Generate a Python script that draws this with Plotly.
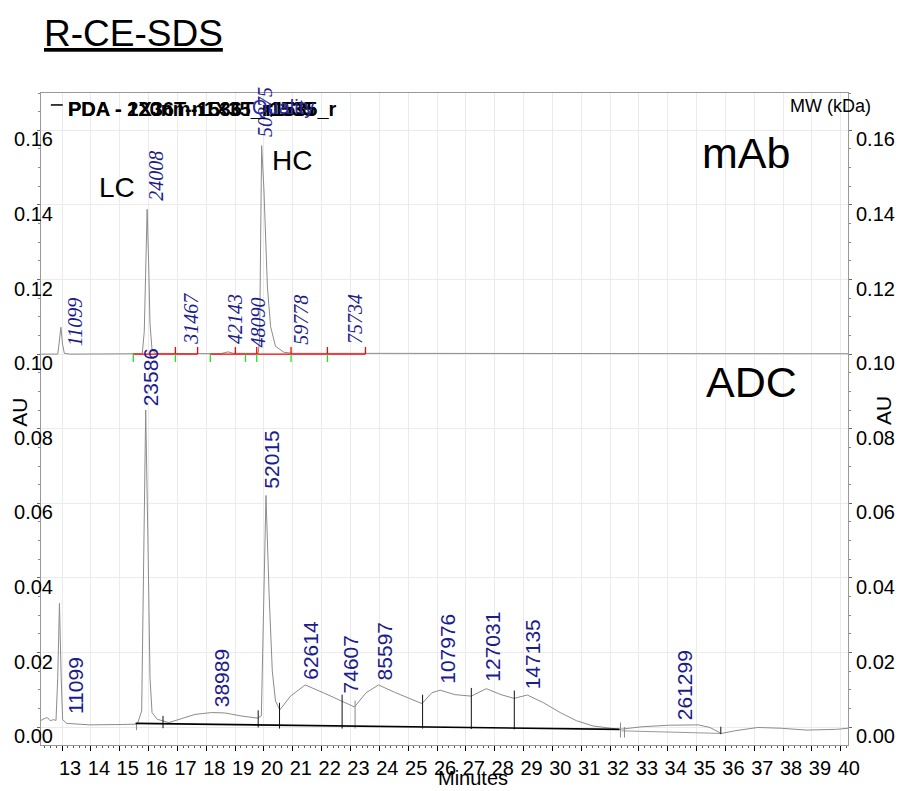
import plotly.graph_objects as go

# ---------------- data ----------------
# x-axis ticks (minutes) and y-axis ticks (AU)
x_ticks = list(range(13, 41))
y_ticks = [0.00, 0.02, 0.04, 0.06, 0.08, 0.10, 0.12, 0.14, 0.16]

# mAb electropherogram (offset onto the 0.10 AU level)
mab_time = [12.28, 12.85, 12.90, 12.96, 13.02, 13.08, 13.30,
            15.70, 15.78, 15.85, 15.90, 15.95, 16.00, 16.05, 16.12, 16.25,
            18.50, 18.75, 18.95,
            19.80, 19.85, 19.89, 19.92, 20.00, 20.12, 20.23, 20.40, 20.69, 21.00,
            23.50, 30.00, 40.25]
mab_au = [0.1000, 0.1000, 0.1030, 0.1072, 0.1025, 0.1002, 0.1000,
          0.1000, 0.1001, 0.1060, 0.1250, 0.1388, 0.1250, 0.1080, 0.1012, 0.1002,
          0.1001, 0.1006, 0.1002,
          0.1002, 0.1040, 0.1400, 0.1559, 0.1440, 0.1180, 0.1074, 0.1021, 0.1005, 0.1002,
          0.1002, 0.1001, 0.1001]

# mAb integration events
mab_event_level = 0.1000
mab_red_start = [15.46, 18.14]
mab_red_end = [17.70, 23.52]
mab_red_ticks = [16.93, 17.70, 19.01, 19.75, 20.94, 22.20, 23.52]
mab_green_ticks = [15.47, 16.93, 18.14, 19.36, 19.75, 20.94, 22.20]

# mAb peak annotations (MW) at peak position
mab_labels = ["11099", "24008", "50275", "31467", "42143", "48090", "59778", "75734"]
mab_label_rt = [13.20, 15.99, 19.79, 17.20, 18.74, 19.54, 21.02, 22.90]
mab_label_au = [0.1011, 0.1401, 0.1571, 0.1015, 0.1015, 0.1006, 0.1015, 0.1015]

# ADC electropherogram
adc_time = [12.25, 12.42, 12.50, 12.59, 12.70, 12.79, 12.85, 12.91, 12.97, 13.02, 13.16,
            13.96, 15.10, 15.61, 15.76, 15.82, 15.90, 15.98, 16.05, 16.12, 16.30,
            16.70, 17.04, 17.61, 18.18, 18.64, 19.20, 19.78, 19.91, 19.98, 20.07,
            20.18, 20.29, 20.40, 20.55, 20.92, 21.43, 22.06, 22.69, 23.14, 23.54,
            23.97, 24.57, 25.14, 25.48, 25.82, 26.11, 26.62, 27.19, 27.71, 28.22,
            28.67, 29.13, 29.70, 30.27, 30.84, 31.41, 32.33, 33.12, 34.04, 35.06,
            35.46, 35.86, 36.32, 37.12, 37.91, 38.83, 39.85, 40.25]
adc_au = [0.0017, 0.0024, 0.0025, 0.0017, 0.0020, 0.0018, 0.0132, 0.0332, 0.0132, 0.0020, 0.0010,
          0.0006, 0.0007, 0.0008, 0.0043, 0.0399, 0.0850, 0.0487, 0.0132, 0.0039, 0.0021,
          0.0012, 0.0021, 0.0034, 0.0039, 0.0038, 0.0030, 0.0024, 0.0030, 0.0310, 0.0621,
          0.0354, 0.0150, 0.0070, 0.0046, 0.0083, 0.0113, 0.0092, 0.0070, 0.0054, 0.0092,
          0.0113, 0.0092, 0.0074, 0.0063, 0.0092, 0.0099, 0.0087, 0.0083, 0.0103, 0.0087,
          0.0077, 0.0086, 0.0065, 0.0039, 0.0017, 0.0003, -0.0006, 0.0001, 0.0005, 0.0006,
          -0.0001, -0.0017, -0.0010, -0.0001, -0.0003, -0.0008, -0.0006, -0.0003]

# ADC integration baselines
adc_base_t = [15.55, 32.33]
adc_base_au = [0.0010, -0.0006]
adc_base2_t = [32.40, 35.86]
adc_base2_au = [-0.0010, -0.0017]

# ADC drop lines (time, low, high)
adc_drop_t = [16.50, 19.80, 20.54, 22.71, 25.50, 27.19, 28.68, 35.84]
adc_drop_low = [-0.0003, -0.0001, -0.0004, -0.0004, -0.0004, -0.0005, -0.0006, -0.0019]
adc_drop_high = [0.0030, 0.0045, 0.0065, 0.0087, 0.0087, 0.0105, 0.0098, 0.0001]
adc_gray_drop_t = [15.58, 23.16, 32.36, 32.50]
adc_gray_drop_low = [-0.0008, -0.0004, -0.0028, -0.0028]
adc_gray_drop_high = [0.0011, 0.0071, 0.0012, 0.0000]

# ADC peak annotations (MW)
adc_labels = ["11099", "23586", "38989", "52015", "62614", "74607", "85597",
              "107976", "127031", "147135", "261299"]
adc_label_rt = [13.24, 15.87, 18.32, 20.06, 21.40, 22.80, 23.97, 26.13, 27.73, 29.10, 34.37]
adc_label_au = [0.0023, 0.0846, 0.0041, 0.0625, 0.0113, 0.0076, 0.0113, 0.0102, 0.0108, 0.0089, 0.0006]

# ---------------- styling ----------------
FONT = "Liberation Sans, Arial, sans-serif"
SERIF = "Liberation Serif, Times New Roman, serif"
NAVY = "#1c1c8c"
TRACE = "#8c8c8c"
X_RANGE = [12.27, 40.25]
Y_RANGE = [-0.0048, 0.170]


def segments(ts, lows, highs):
    xs, ys = [], []
    for t, lo, hi in zip(ts, lows, highs):
        xs += [t, t, None]
        ys += [lo, hi, None]
    return xs, ys


fig = go.Figure()

# mAb trace
fig.add_trace(go.Scatter(x=mab_time, y=mab_au, mode="lines",
                         line=dict(color=TRACE, width=1), hoverinfo="skip"))

# mAb red baseline segments and event ticks
rx, ry = [], []
for s, e in zip(mab_red_start, mab_red_end):
    rx += [s, e, None]
    ry += [mab_event_level, mab_event_level, None]
tx, ty = segments(mab_red_ticks, [mab_event_level] * len(mab_red_ticks),
                  [mab_event_level + 0.0019] * len(mab_red_ticks))
fig.add_trace(go.Scatter(x=rx + tx, y=ry + ty, mode="lines",
                         line=dict(color="#ff0000", width=1.3), hoverinfo="skip"))
gx, gy = segments(mab_green_ticks, [mab_event_level - 0.0021] * len(mab_green_ticks),
                  [mab_event_level] * len(mab_green_ticks))
fig.add_trace(go.Scatter(x=gx, y=gy, mode="lines",
                         line=dict(color="#22dd22", width=1.3), hoverinfo="skip"))

# ADC trace
fig.add_trace(go.Scatter(x=adc_time, y=adc_au, mode="lines",
                         line=dict(color=TRACE, width=1), hoverinfo="skip"))

# ADC baselines
fig.add_trace(go.Scatter(x=adc_base2_t, y=adc_base2_au, mode="lines",
                         line=dict(color="#999999", width=1), hoverinfo="skip"))
dx, dy = segments(adc_gray_drop_t, adc_gray_drop_low, adc_gray_drop_high)
fig.add_trace(go.Scatter(x=dx, y=dy, mode="lines",
                         line=dict(color="#888888", width=1), hoverinfo="skip"))
dx, dy = segments(adc_drop_t, adc_drop_low, adc_drop_high)
fig.add_trace(go.Scatter(x=dx, y=dy, mode="lines",
                         line=dict(color="#111111", width=1), hoverinfo="skip"))
fig.add_trace(go.Scatter(x=adc_base_t, y=adc_base_au, mode="lines", yaxis="y2",
                         line=dict(color="#000000", width=1.6), hoverinfo="skip"))

annotations = []

# peak MW labels
for txt, t, a in zip(mab_labels, mab_label_rt, mab_label_au):
    annotations.append(dict(x=t, y=a, xref="x", yref="y", text=txt, textangle=-90,
                            showarrow=False, xanchor="center", yanchor="bottom",
                            xshift=7, yshift=2,
                            font=dict(family=SERIF, size=20, color=NAVY, style="italic")))
for txt, t, a in zip(adc_labels, adc_label_rt, adc_label_au):
    annotations.append(dict(x=t, y=a, xref="x", yref="y", text=txt, textangle=-90,
                            showarrow=False, xanchor="center", yanchor="bottom",
                            xshift=6, yshift=3,
                            font=dict(family=FONT, size=21, color=NAVY)))

# chain / sample names
annotations += [
    dict(x=14.92, y=0.1447, text="LC", showarrow=False, font=dict(family=FONT, size=28, color="black")),
    dict(x=20.97, y=0.1519, text="HC", showarrow=False, font=dict(family=FONT, size=28, color="black")),
    dict(x=36.72, y=0.1540, text="mAb", showarrow=False, font=dict(family=FONT, size=43, color="black")),
    dict(x=36.92, y=0.0924, text="ADC", showarrow=False, font=dict(family=FONT, size=43, color="black")),
]


def px(xp):
    return (xp - 41) / 817


def py(yp):
    return (748 - yp) / 655


def paper_text(x, y, text, size, color="black", xanchor="center", angle=0):
    return dict(x=px(x), y=py(y), xref="paper", yref="paper", text=text,
                showarrow=False, xanchor=xanchor, yanchor="middle", textangle=angle,
                font=dict(family=FONT, size=size, color=color))


annotations += [
    paper_text(42, 33, "<u>R-CE-SDS</u>", 37, xanchor="left"),
    paper_text(797, 106, "MW (kDa)", 18, xanchor="left"),
    paper_text(66, 109, "<b>PDA - 220nm-1536T_r1535_r</b>", 20, xanchor="left"),
    paper_text(66, 109, "<b>PDA - 1X36T-n1X35_r1535</b>", 20, xanchor="left"),
    paper_text(253, 107, "Quality", 20, color="#2a2aa8", xanchor="left"),
    paper_text(19, 414, "AU", 21, angle=-90),
    paper_text(894, 412, "AU", 21, angle=-90),
    paper_text(478, 781, "Minutes", 20),
]

shapes = [dict(type="line", xref="paper", yref="paper", x0=px(51), x1=px(63),
               y0=py(105), y1=py(105), line=dict(color="black", width=1.5))]

axis_common = dict(
    range=Y_RANGE, tickvals=y_ticks, ticktext=[f"{v:.2f}" for v in y_ticks],
    ticks="outside", ticklen=3, tickcolor="#666666",
    showline=True, linecolor="#999999", linewidth=1,
    tickfont=dict(family=FONT, size=20, color="black"),
    ticklabelshift=9, zeroline=False,
    minor=dict(dtick=0.005, ticks="outside", ticklen=2, tickcolor="#888888", showgrid=False),
)

fig.update_layout(
    width=907, height=791,
    margin=dict(l=41, r=49, t=93, b=43),
    paper_bgcolor="white", plot_bgcolor="white",
    showlegend=False,
    xaxis=dict(range=X_RANGE, tickvals=x_ticks, ticktext=[str(v) for v in x_ticks],
               ticks="outside", ticklen=5, tickcolor="#000000", tickwidth=1.2,
               showline=True, linecolor="#999999", linewidth=1, mirror=True,
               showgrid=True, gridcolor="#ebebeb", gridwidth=1, zeroline=False,
               tickfont=dict(family=FONT, size=20, color="black"),
               ticklabelshift=8,
               minor=dict(dtick=0.2, ticks="outside", ticklen=2, tickcolor="#555555", showgrid=False)),
    yaxis=dict(**axis_common, showgrid=True, gridcolor="#ebebeb", gridwidth=1,
               ticklabelstandoff=-20),
    yaxis2=dict(**axis_common, overlaying="y", side="right", showgrid=False),
    annotations=annotations,
    shapes=shapes,
)

fig.write_html("out.html")
